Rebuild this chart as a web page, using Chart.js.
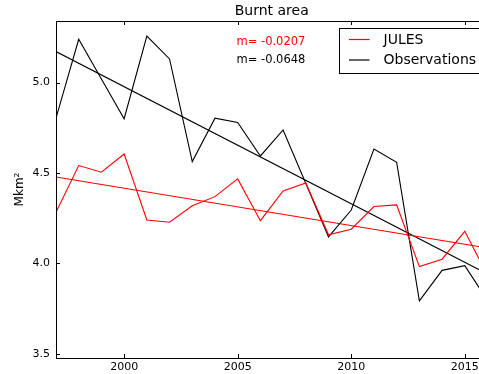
<!DOCTYPE html>
<html>
<head>
<meta charset="utf-8">
<script src="https://cdn.jsdelivr.net/npm/chart.js@4.4.0/dist/chart.umd.min.js"></script>
<style>
  html, body { margin: 0; padding: 0; overflow: hidden; background: #fff; }
  #wrap { width: 479px; height: 374px; overflow: hidden; }
  canvas { display: block; }
</style>
</head>
<body>
<div id="wrap"><canvas id="burnt" width="500" height="374"></canvas></div>
<script>
// values
const years = [1997, 1998, 1999, 2000, 2001, 2002, 2003, 2004, 2005, 2006,
               2007, 2008, 2009, 2010, 2011, 2012, 2013, 2014, 2015, 2016];
const julesValues = [4.283, 4.541, 4.504, 4.605, 4.240, 4.227, 4.318, 4.369, 4.467, 4.236,
                     4.400, 4.445, 4.158, 4.189, 4.314, 4.323, 3.982, 4.023, 4.177, 3.934];
const obsValues = [4.803, 5.240, 5.020, 4.800, 5.258, 5.131, 4.563, 4.803, 4.779, 4.594,
                   4.738, 4.442, 4.146, 4.295, 4.633, 4.559, 3.792, 3.961, 3.987, 3.795];
const trendYears = [1997, 2016];
const julesTrend = [4.478, 4.085];
const obsTrend = [5.172, 3.941];
const slopeLabels = ['m= -0.0207', 'm= -0.0648'];
const xTicks = [2000, 2005, 2010, 2015];
const yTicks = [3.5, 4.0, 4.5, 5.0];

const FONT = "'DejaVu Sans', sans-serif";

function toPoints(xs, ys) {
    return xs.map((x, i) => ({ x: x, y: ys[i] }));
}

// frame, inward ticks, title, axis label, slope notes and legend
const decorPlugin = {
    id: 'decor',
    afterDraw(chart) {
        const ctx = chart.ctx;
        const area = chart.chartArea;
        const xs = chart.scales.x;
        const ys = chart.scales.y;
        const tick = 4;

        ctx.save();
        ctx.strokeStyle = '#000';
        ctx.lineWidth = 1;
        ctx.strokeRect(Math.round(area.left) + 0.5, Math.round(area.top) + 0.5,
            Math.round(area.right - area.left), Math.round(area.bottom - area.top));

        ctx.beginPath();
        xs.ticks.forEach(t => {
            const px = Math.round(xs.getPixelForValue(t.value)) + 0.5;
            ctx.moveTo(px, area.bottom); ctx.lineTo(px, area.bottom - tick);
            ctx.moveTo(px, area.top); ctx.lineTo(px, area.top + tick);
        });
        ys.ticks.forEach(t => {
            const py = Math.round(ys.getPixelForValue(t.value)) + 0.5;
            ctx.moveTo(area.left, py); ctx.lineTo(area.left + tick, py);
            ctx.moveTo(area.right, py); ctx.lineTo(area.right - tick, py);
        });
        ctx.stroke();

        // title
        ctx.fillStyle = '#000';
        ctx.font = '14px ' + FONT;
        ctx.textAlign = 'center';
        ctx.textBaseline = 'middle';
        ctx.fillText('Burnt area', (area.left + area.right) / 2, 11);

        // y axis label
        ctx.save();
        ctx.translate(20, (area.top + area.bottom) / 2);
        ctx.rotate(-Math.PI / 2);
        ctx.font = '12px ' + FONT;
        ctx.fillText('Mkm\u00B2', 0, 0);
        ctx.restore();

        // slope notes
        ctx.font = '11.5px ' + FONT;
        ctx.textAlign = 'left';
        ctx.fillStyle = '#ff0000';
        ctx.fillText(slopeLabels[0], 236.5, 42);
        ctx.fillStyle = '#000';
        ctx.fillText(slopeLabels[1], 236.5, 60.5);

        // legend box
        const lx = 339.5, ly = 28.5, lw = 160, lh = 45;
        ctx.fillStyle = '#fff';
        ctx.fillRect(lx, ly, lw, lh);
        ctx.strokeStyle = '#000';
        ctx.strokeRect(lx, ly, lw, lh);
        ctx.font = '14px ' + FONT;
        const items = chart.data.datasets.filter(d => d.inLegend);
        items.forEach((d, i) => {
            const y = 39.5 + i * 20.5;
            ctx.strokeStyle = d.borderColor;
            ctx.lineWidth = 1.2;
            ctx.beginPath();
            ctx.moveTo(349, y); ctx.lineTo(369.5, y);
            ctx.stroke();
            ctx.fillStyle = '#000';
            ctx.fillText(d.label, 383.5, y + 0.5);
        });
        ctx.restore();
    }
};

const ctx = document.getElementById('burnt').getContext('2d');
const chart = new Chart(ctx, {
    type: 'line',
    data: {
        datasets: [
            { label: 'JULES', data: toPoints(years, julesValues), borderColor: '#ff0000', inLegend: true },
            { label: 'Observations', data: toPoints(years, obsValues), borderColor: '#000000', inLegend: true },
            { label: 'JULES trend', data: toPoints(trendYears, julesTrend), borderColor: '#ff0000' },
            { label: 'Observations trend', data: toPoints(trendYears, obsTrend), borderColor: '#000000' }
        ]
    },
    options: {
        responsive: false,
        animation: false,
        devicePixelRatio: 1,
        layout: { padding: { left: 0, right: 12.5, top: 21, bottom: 0 } },
        elements: {
            line: { borderWidth: 1.1, tension: 0, fill: false },
            point: { radius: 0, hoverRadius: 0 }
        },
        plugins: {
            legend: { display: false },
            title: { display: false },
            tooltip: { enabled: false }
        },
        scales: {
            x: {
                type: 'linear',
                min: 1997,
                max: 2016,
                grid: { display: false, drawTicks: false },
                border: { display: false },
                afterBuildTicks: s => { s.ticks = xTicks.map(v => ({ value: v })); },
                afterFit: s => { s.height = 16; },
                ticks: {
                    padding: 3,
                    color: '#000',
                    font: { family: FONT, size: 11 },
                    callback: v => String(v)
                }
            },
            y: {
                min: 3.476,
                max: 5.341,
                grid: { display: false, drawTicks: false },
                border: { display: false },
                afterBuildTicks: s => { s.ticks = yTicks.map(v => ({ value: v })); },
                afterFit: s => { s.width = 56; },
                ticks: {
                    padding: 6,
                    color: '#000',
                    font: { family: FONT, size: 11 },
                    callback: v => Number(v).toFixed(1)
                }
            }
        }
    },
    plugins: [decorPlugin]
});
</script>
</body>
</html>
